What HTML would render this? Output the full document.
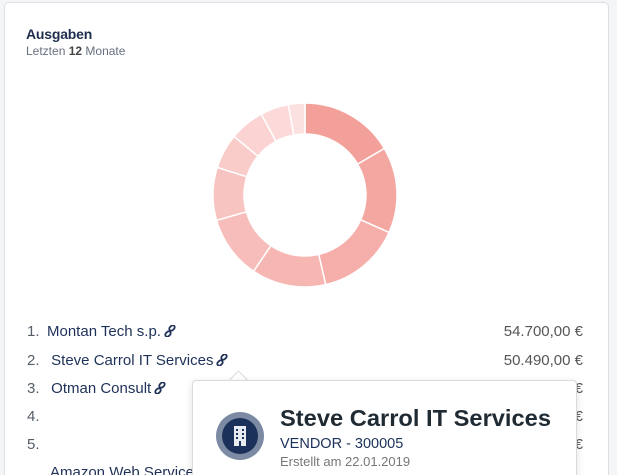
<!DOCTYPE html>
<html style="width:617px;height:475px;overflow:hidden"><head><meta charset="utf-8"><style>
body{margin:0;width:617px;height:475px;overflow:hidden;background:#f4f5f7;font-family:"Liberation Sans",sans-serif;position:relative}
.card{position:absolute;left:4px;top:2px;width:603px;height:490px;background:#fff;border:1px solid #dcdfe4;border-radius:5px}
.t{position:absolute;left:26px;top:26px;font-size:14px;color:#1f2d4d;font-weight:bold;letter-spacing:-0.2px}
.s{position:absolute;left:26px;top:44px;font-size:12px;color:#66707f}
.row{position:absolute;left:27px;font-size:15px;color:#1e3158;white-space:nowrap}
.row .n{color:#555d68;display:inline-block;width:20px}
.amt{position:absolute;right:34px;font-size:15px;color:#555;white-space:nowrap}
.pop{position:absolute;left:192px;top:380px;width:383px;height:110px;background:#fff;border:1px solid #d8dbe0;border-radius:4px;box-shadow:0 2px 8px rgba(0,0,0,.12)}
.arrow{position:absolute;left:232px;top:373px;width:12px;height:12px;background:#fff;border-left:1px solid #d8dbe0;border-top:1px solid #d8dbe0;transform:rotate(45deg)}
.lk{display:inline-block;vertical-align:-1px;margin-left:3px}
</style></head><body>
<div class="card"></div>
<div class="t">Ausgaben</div>
<div class="s">Letzten <b style="color:#444">12</b> Monate</div>
<svg id="d" width="617" height="300" style="position:absolute;left:0;top:0"></svg>
<div class="row" style="top:323px"><span class="n">1.</span>Montan Tech s.p.<svg class="lk" width="12" height="12" viewBox="0 0 12 12"><g fill="none" stroke="#1e3158" stroke-width="1.8"><rect x="5" y="1" width="6" height="4" rx="2" transform="rotate(-45 8 3)"/><rect x="1" y="7" width="6" height="4" rx="2" transform="rotate(-45 4 9)"/></g></svg></div>
<div class="row" style="top:352px"><span class="n">2.</span> Steve Carrol IT Services<svg class="lk" width="12" height="12" viewBox="0 0 12 12"><g fill="none" stroke="#1e3158" stroke-width="1.8"><rect x="5" y="1" width="6" height="4" rx="2" transform="rotate(-45 8 3)"/><rect x="1" y="7" width="6" height="4" rx="2" transform="rotate(-45 4 9)"/></g></svg></div>
<div class="row" style="top:380px"><span class="n">3.</span> Otman Consult<svg class="lk" width="12" height="12" viewBox="0 0 12 12"><g fill="none" stroke="#1e3158" stroke-width="1.8"><rect x="5" y="1" width="6" height="4" rx="2" transform="rotate(-45 8 3)"/><rect x="1" y="7" width="6" height="4" rx="2" transform="rotate(-45 4 9)"/></g></svg></div>
<div class="row" style="top:408px"><span class="n">4.</span></div>
<div class="row" style="top:436px"><span class="n">5.</span></div>
<div class="row" style="top:464px;left:50px">Amazon Web Services</div>
<div class="amt" style="top:323px">54.700,00 €</div>
<div class="amt" style="top:352px">50.490,00 €</div>
<div class="amt" style="top:380px">€</div>
<div class="amt" style="top:408px">€</div>
<div class="amt" style="top:436px">€</div>
<div class="arrow"></div>
<div class="pop"></div>
<svg width="617" height="475" style="position:absolute;left:0;top:0">
<circle cx="240" cy="436" r="24" fill="#7d8aa3"/><circle cx="240" cy="436" r="18" fill="#1c3159"/>
<rect x="234" y="426" width="12" height="20" fill="#e8ebf0"/>
<g fill="#1c3159"><rect x="236" y="429" width="2" height="2"/><rect x="242" y="429" width="2" height="2"/><rect x="236" y="433" width="2" height="2"/><rect x="242" y="433" width="2" height="2"/><rect x="236" y="437" width="2" height="2"/><rect x="242" y="437" width="2" height="2"/><rect x="239" y="441" width="2" height="5"/></g>
<text x="280" y="426" font-family="Liberation Sans" font-weight="bold" font-size="23.5" fill="#1f2a33" textLength="271" lengthAdjust="spacingAndGlyphs">Steve Carrol IT Services</text>
<text x="280" y="448" font-family="Liberation Sans" font-size="14.5" fill="#1c3159">VENDOR - 300005</text>
<text x="280" y="466" font-family="Liberation Sans" font-size="13" fill="#777">Erstellt am 22.01.2019</text>
</svg>
<script>
var b=[0,59.6,114,167,214,254,287.5,309.5,331.6,349.5,360];
var c=["#f3a09a","#f4a6a1","#f5aeaa","#f6b6b2","#f7bdba","#f8c4c2","#f9cbc9","#fad3d2","#fbdad9","#fce1e1"];
var cx=305,cy=195,R=92,r=61,s="";
function p(a,rr){a=a*Math.PI/180;return (cx+rr*Math.sin(a)).toFixed(2)+","+(cy-rr*Math.cos(a)).toFixed(2);}
for(var i=0;i<10;i++){var a0=b[i],a1=b[i+1],l=(a1-a0)>180?1:0;
s+='<path d="M'+p(a0,R)+' A'+R+','+R+' 0 '+l+' 1 '+p(a1,R)+' L'+p(a1,r)+' A'+r+','+r+' 0 '+l+' 0 '+p(a0,r)+' Z" fill="'+c[i]+'" stroke="#fff" stroke-width="1.5"/>';}
document.getElementById("d").innerHTML=s;
</script>
</body></html>
